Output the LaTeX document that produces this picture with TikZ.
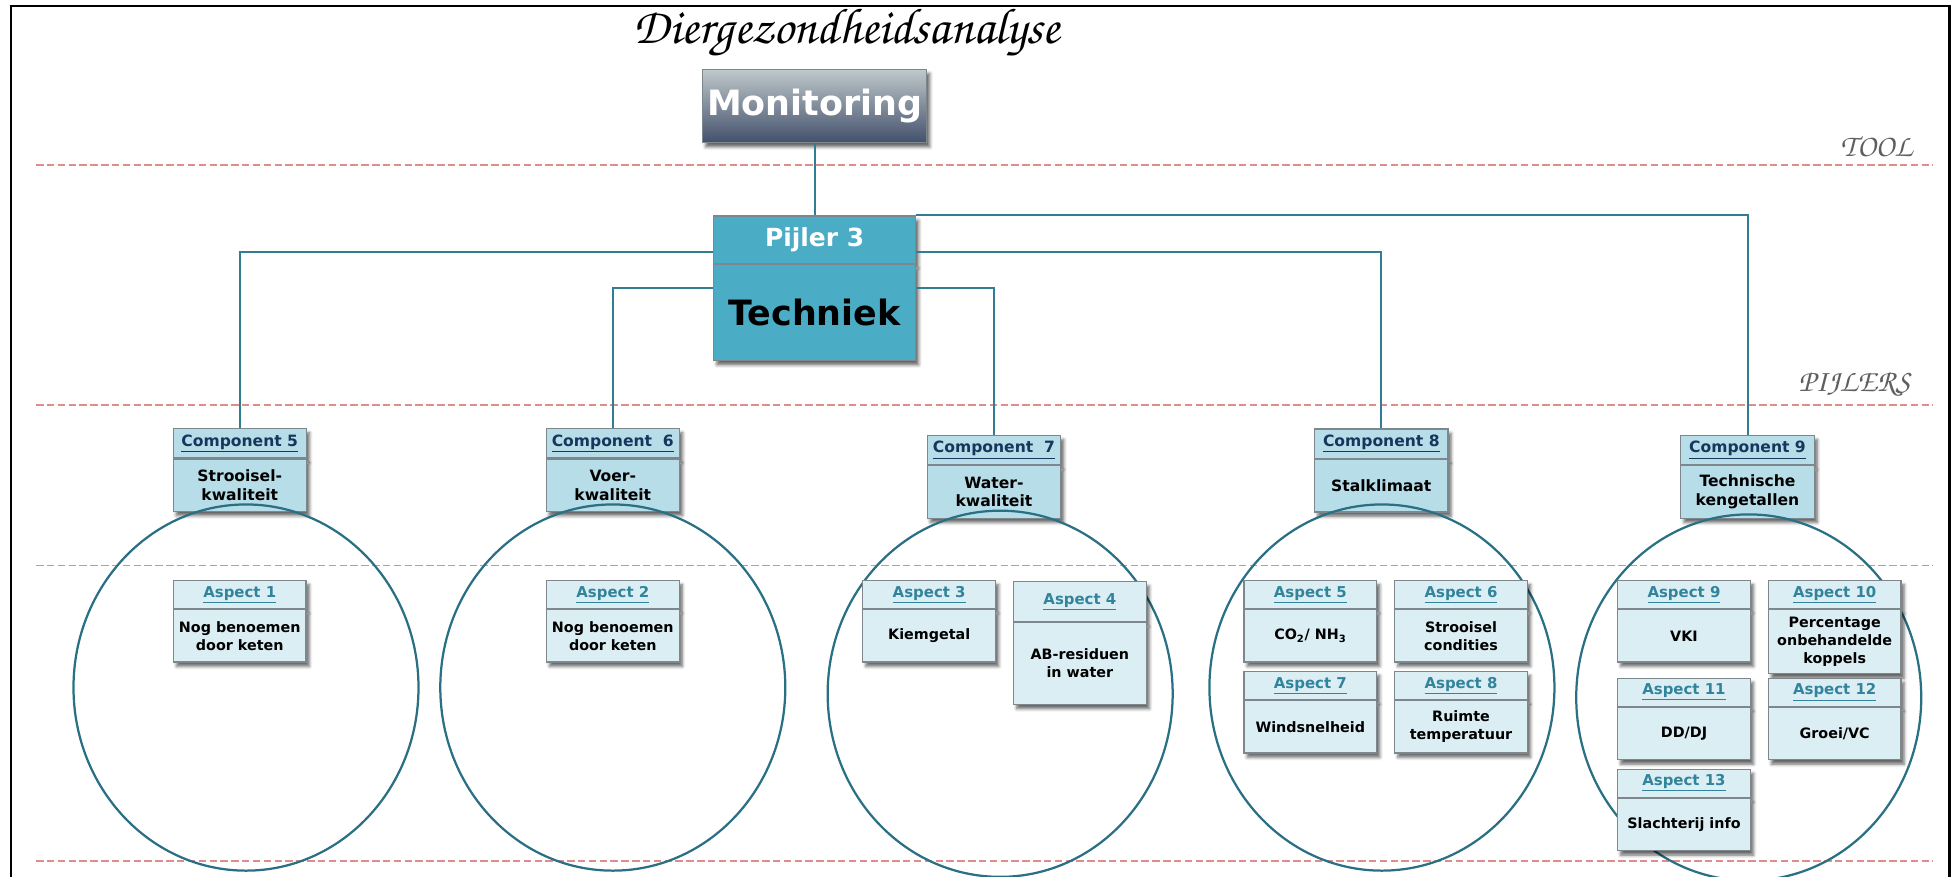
\documentclass[tikz,border=0pt]{standalone}
\usepackage{fontspec}
\setsansfont{DejaVu Sans}
\usetikzlibrary{positioning,shadows.blur}

\definecolor{pijlerblue}{RGB}{75,172,198}
\definecolor{compblue}{RGB}{183,221,232}
\definecolor{aspblue}{RGB}{219,238,244}
\definecolor{boxgray}{RGB}{125,135,140}
\definecolor{linkteal}{RGB}{49,125,145}
\definecolor{ringteal}{RGB}{42,112,132}
\definecolor{dashred}{RGB}{222,140,140}
\definecolor{compnavy}{RGB}{23,54,93}
\definecolor{aspteal}{RGB}{49,132,155}
\definecolor{labelgray}{RGB}{95,95,95}
\definecolor{montop}{RGB}{192,201,203}
\definecolor{monbot}{RGB}{66,80,108}

\newcommand{\chancery}{\usefont{OT1}{pzc}{mb}{it}}

\tikzset{
    boxshadow/.style={blur shadow={shadow xshift=2.5pt,shadow yshift=-3.5pt,shadow blur radius=2.5pt,shadow opacity=60}},
    comphead/.style={draw=boxgray,line width=1pt,fill=compblue,minimum width=107pt,minimum height=23.5pt,
        inner sep=1pt,text=compnavy,font=\sffamily\bfseries\fontsize{12.5}{15}\selectfont,boxshadow},
    compbody/.style={comphead,minimum height=42pt,align=center,text=black},
    asphead/.style={draw=boxgray,line width=1pt,fill=aspblue,minimum width=106.5pt,minimum height=22.5pt,
        inner sep=1pt,text=aspteal,font=\sffamily\bfseries\fontsize{12}{15}\selectfont,boxshadow},
    aspbody/.style={asphead,minimum height=42pt,align=center,text=black,
        font=\sffamily\bfseries\fontsize{11.5}{14.5}\selectfont},
    link/.style={draw=linkteal,line width=1.6pt},
    ring/.style={draw=ringteal,line width=1.8pt},
    layerline/.style={draw=dashred,line width=1.5pt,dash pattern=on 6pt off 2.7pt},
    layerlabel/.style={anchor=base east,text=labelgray,font=\chancery\fontsize{25}{25}\selectfont}
}

\begin{document}
\begin{tikzpicture}[x=1pt,y=-1pt]
    \useasboundingbox (0,0) rectangle (1568,704.1);
    %% frame and layers
    \draw[line width=2pt] (9,720) -- (9,5) -- (1565,5) -- (1565,720);
    \foreach \y in {132.5,325,454,691}
        \draw[layerline] (29,\y) -- (1552,\y);
    \node[layerlabel] (tool) at (1539,126) {TOOL};
    \node[layerlabel] (pijlers) at (1537,314) {PIJLERS};

    %% tool
    \node[anchor=base] (title) at (680,35) {\chancery\fontsize{40.5}{40.5}\selectfont Diergezondheidsanalyse};
    \node[draw=boxgray,line width=1pt,top color=montop,bottom color=monbot,minimum width=180pt,minimum height=59pt,
        text=white,font=\sffamily\bfseries\fontsize{28}{30}\selectfont,boxshadow,anchor=north] (mon) at (654,55) {Monitoring};

    %% pijler
    \node[draw=boxgray,line width=1pt,fill=pijlerblue,minimum width=162pt,minimum height=38pt,text=white,
        font=\sffamily\bfseries\fontsize{20}{22}\selectfont,boxshadow,anchor=north] (pijh) at (654,173) {Pijler 3};
    \node[draw=boxgray,line width=1pt,fill=pijlerblue,minimum width=162pt,minimum height=77pt,text=black,
        font=\sffamily\bfseries\fontsize{28}{30}\selectfont,boxshadow,below=0pt of pijh] (pij) {Techniek};

    %% components
    \node[comphead,anchor=north] (c5h) at (192.5,343.5) {\underline{Component 5}};
    \node[compbody,below=0pt of c5h] (c5) {Strooisel-\\kwaliteit};
    \node[comphead,anchor=north] (c6h) at (492,343.5) {\underline{Component\ \ 6}};
    \node[compbody,below=0pt of c6h] (c6) {Voer-\\kwaliteit};
    \node[comphead,anchor=north] (c7h) at (798,349) {\underline{Component\ \ 7}};
    \node[compbody,below=0pt of c7h] (c7) {Water-\\kwaliteit};
    \node[comphead,anchor=north] (c8h) at (1109,344) {\underline{Component 8}};
    \node[compbody,below=0pt of c8h] (c8) {Stalklimaat};
    \node[comphead,anchor=north] (c9h) at (1403,349) {\underline{Component 9}};
    \node[compbody,below=0pt of c9h] (c9) {Technische\\kengetallen};

    %% connectors
    \draw[link] (mon.south) -- (pijh.north);
    \draw[link] ([yshift=-10pt]pijh.west) -| (c5h.north);
    \draw[link] ([yshift=-19pt]pij.north west) -| (c6h.north);
    \draw[link] ([yshift=-19pt]pij.north east) -| (c7h.north);
    \draw[link] ([yshift=-10pt]pijh.east) -| (c8h.north);
    \draw[link] (pijh.north east) -| (c9h.north);

    %% rings
    \foreach \cx/\cy in {197.5/552,492/552,803/557,1109.5/552,1404/560}
        \draw[ring] (\cx,\cy) ellipse [x radius=138.5pt,y radius=147pt];

    %% aspects
    \node[asphead,anchor=north] (a1h) at (192.5,465.5) {\underline{Aspect 1}};
    \node[aspbody,below=0pt of a1h] (a1) {Nog benoemen\\door keten};
    \node[asphead,anchor=north] (a2h) at (492,465.5) {\underline{Aspect 2}};
    \node[aspbody,below=0pt of a2h] (a2) {Nog benoemen\\door keten};
    \node[asphead,anchor=north] (a3h) at (746,465.5) {\underline{Aspect 3}};
    \node[aspbody,below=0pt of a3h] (a3) {Kiemgetal};
    \node[asphead,anchor=north,minimum height=32pt] (a4h) at (867,466.5) {\underline{Aspect 4}};
    \node[aspbody,below=0pt of a4h,minimum height=65.5pt] (a4) {AB-residuen\\in water};
    \node[asphead,anchor=north] (a5h) at (1052,465.5) {\underline{Aspect 5}};
    \node[aspbody,below=0pt of a5h] (a5) {CO\textsubscript{2}/ NH\textsubscript{3}};
    \node[asphead,anchor=north] (a6h) at (1173,465.5) {\underline{Aspect 6}};
    \node[aspbody,below=0pt of a6h] (a6) {Strooisel\\condities};
    \node[asphead,anchor=north] (a7h) at (1052,538.5) {\underline{Aspect 7}};
    \node[aspbody,below=0pt of a7h] (a7) {Windsnelheid};
    \node[asphead,anchor=north] (a8h) at (1173,538.5) {\underline{Aspect 8}};
    \node[aspbody,below=0pt of a8h] (a8) {Ruimte\\temperatuur};
    \node[asphead,anchor=north] (a9h) at (1352,465.5) {\underline{Aspect 9}};
    \node[aspbody,below=0pt of a9h] (a9) {VKI};
    \node[asphead,anchor=north] (a10h) at (1473,465.5) {\underline{Aspect 10}};
    \node[aspbody,below=0pt of a10h,minimum height=51.5pt] (a10) {Percentage\\onbehandelde\\koppels};
    \node[asphead,anchor=north] (a11h) at (1352,544) {\underline{Aspect 11}};
    \node[aspbody,below=0pt of a11h] (a11) {DD/DJ};
    \node[asphead,anchor=north] (a12h) at (1473,544) {\underline{Aspect 12}};
    \node[aspbody,below=0pt of a12h] (a12) {Groei/VC};
    \node[asphead,anchor=north] (a13h) at (1352,617) {\underline{Aspect 13}};
    \node[aspbody,below=0pt of a13h] (a13) {Slachterij info};
\end{tikzpicture}
\end{document}
